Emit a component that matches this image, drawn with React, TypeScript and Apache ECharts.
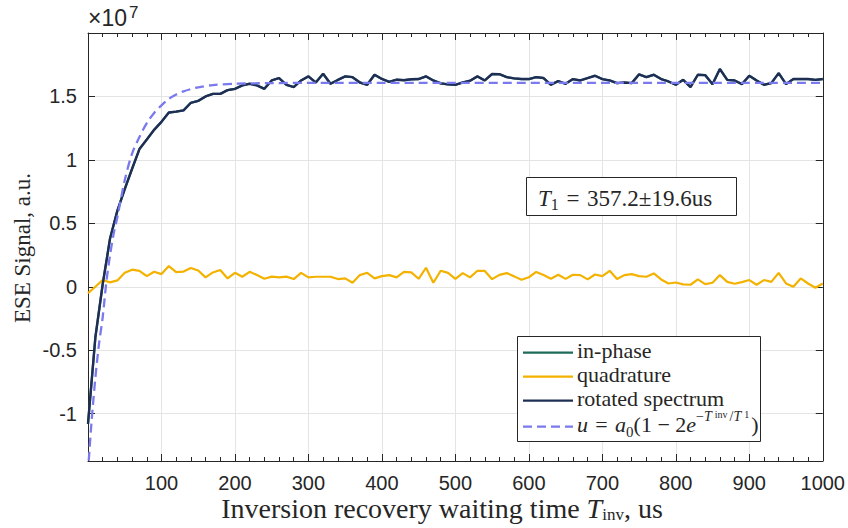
import React, { useEffect, useRef } from 'react';
import * as echarts from 'echarts';

// ---- data (signal values in units of 1e7) ----
const waitTimes = [
  0, 10, 20, 30, 40, 50, 60, 70, 80, 90,
  100, 110, 120, 130, 140, 150, 160, 170, 180, 190,
  200, 210, 220, 230, 240, 250, 260, 270, 280, 290,
  300, 310, 320, 330, 340, 350, 360, 370, 380, 390,
  400, 410, 420, 430, 440, 450, 460, 470, 480, 490,
  500, 510, 520, 530, 540, 550, 560, 570, 580, 590,
  600, 610, 620, 630, 640, 650, 660, 670, 680, 690,
  700, 710, 720, 730, 740, 750, 760, 770, 780, 790,
  800, 810, 820, 830, 840, 850, 860, 870, 880, 890,
  900, 910, 920, 930, 940, 950, 960, 970, 980, 990,
  1000,
];

const rotatedSpectrum = [
  -1.08, -0.40, 0.02, 0.38, 0.60, 0.77, 0.93, 1.085, 1.16, 1.237,
  1.30, 1.373, 1.38, 1.39, 1.45, 1.465, 1.50, 1.52, 1.52, 1.55,
  1.56, 1.587, 1.60, 1.587, 1.56, 1.626, 1.645, 1.592, 1.574, 1.626,
  1.658, 1.61, 1.679, 1.60, 1.63, 1.658, 1.652, 1.61, 1.592, 1.671,
  1.638, 1.615, 1.632, 1.628, 1.635, 1.637, 1.658, 1.626, 1.603, 1.595,
  1.592, 1.61, 1.624, 1.658, 1.626, 1.677, 1.675, 1.652, 1.642, 1.637,
  1.637, 1.652, 1.645, 1.592, 1.621, 1.60, 1.637, 1.626, 1.645, 1.663,
  1.637, 1.626, 1.605, 1.61, 1.605, 1.674, 1.652, 1.671, 1.637, 1.618,
  1.592, 1.631, 1.574, 1.671, 1.668, 1.597, 1.716, 1.631, 1.626, 1.597,
  1.663, 1.626, 1.592, 1.605, 1.684, 1.597, 1.637, 1.637, 1.637, 1.631,
  1.637,
];

// the in-phase channel coincides with the rotated spectrum in the picture
const inPhase = rotatedSpectrum;

const quadrature = [
  -0.05, 0.00, 0.053, 0.035, 0.05, 0.11, 0.135, 0.126, 0.084, 0.118,
  0.10, 0.163, 0.115, 0.12, 0.148, 0.128, 0.074, 0.113, 0.132, 0.066,
  0.11, 0.079, 0.118, 0.092, 0.063, 0.08, 0.074, 0.08, 0.061, 0.11,
  0.074, 0.079, 0.079, 0.079, 0.061, 0.066, 0.032, 0.092, 0.11, 0.066,
  0.084, 0.092, 0.074, 0.118, 0.113, 0.063, 0.150, 0.032, 0.126, 0.11,
  0.063, 0.108, 0.074, 0.126, 0.125, 0.06, 0.094, 0.108, 0.082, 0.055,
  0.075, 0.117, 0.092, 0.064, 0.095, 0.062, 0.095, 0.092, 0.058, 0.097,
  0.084, 0.126, 0.061, 0.092, 0.10, 0.084, 0.079, 0.105, 0.058, 0.026,
  0.034, 0.019, 0.016, 0.058, 0.021, 0.032, 0.092, 0.039, 0.024, 0.037,
  0.053, 0.016, 0.053, 0.039, 0.11, 0.026, 0.0, 0.066, 0.026, -0.008,
  0.026,
];

const fitTimes = [1, 5, 10, 15, 20, 25, 30, 35, 40, 50, 60, 70, 80, 90, 100, 110, 120, 130, 140, 150, 170, 200, 250, 300, 1000];
const fitValues = [-1.37, -1.05, -0.72, -0.45, -0.24, 0.04, 0.25, 0.42, 0.55, 0.84, 1.05, 1.18, 1.29, 1.37, 1.43, 1.48, 1.515, 1.54, 1.558, 1.572, 1.59, 1.600, 1.605, 1.607, 1.607];

const xTickLabels = [100, 200, 300, 400, 500, 600, 700, 800, 900, 1000];
const yTicks = [-1, -0.5, 0, 0.5, 1, 1.5];

const legendNames = ['in-phase', 'quadrature', 'rotated spectrum'];
const fitLabel = '{i|u}{r|\u2004=\u2004}{i|a}{s|0}{r|(1\u2005−\u20052}{i|e}{p|−}{pi|T}{ps|inv}{p|/}{pi|T}{ps|1}{r|)}';
const t1Label = '{i|T}{s|1}{r|\u2004=\u2004357.2±19.6us}';

// ---- styles ----
const SERIF = '"Liberation Serif", "Times New Roman", serif';
const SANS = '"Liberation Sans", Arial, Helvetica, sans-serif';
const INK = '#262626';
const GRID = '#e4e4e4';
const C_INPHASE = '#1d6b5b';
const C_QUAD = '#f4b200';
const C_ROT = '#1f2e55';
const C_FIT = '#7a7aee';

function pairs(xs: number[], ys: number[]) {
  return xs.map((x, i) => [x, ys[i]]);
}

function buildOption(): any {
  const tickStyle = { color: INK, width: 1 };
  const richBase = (size: number, lh: number) => ({
    r: { fontFamily: SERIF, fontSize: size, lineHeight: lh, fill: INK },
    i: { fontFamily: SERIF, fontSize: size, lineHeight: lh, fontStyle: 'italic', fill: INK },
  });

  const legendRows = [352.7, 376.7, 400.7, 426.7];
  const legendColors = [C_INPHASE, C_QUAD, C_ROT];

  const graphics: any[] = [
    // x10^7 exponent
    {
      type: 'text', x: 88, y: 29, z: 100,
      style: { text: '×10', fontFamily: SANS, fontSize: 23, fill: INK, align: 'left', verticalAlign: 'bottom' },
    },
    {
      type: 'text', x: 129, y: 21, z: 100,
      style: { text: '7', fontFamily: SANS, fontSize: 17, fill: INK, align: 'left', verticalAlign: 'bottom' },
    },
    // y axis title
    {
      type: 'text', x: 22, y: 248, rotation: Math.PI / 2, z: 100,
      style: { text: 'ESE Signal, a.u.', fontFamily: SERIF, fontSize: 23, fill: INK, align: 'center', verticalAlign: 'middle' },
    },
    // x axis title
    {
      type: 'text', x: 442, y: 508, z: 100,
      style: {
        text: '{r|Inversion recovery waiting time }{i|T}{s|inv}{r|, us}', align: 'center', verticalAlign: 'middle',
        rich: {
          ...richBase(28, 30),
          s: { fontFamily: SERIF, fontSize: 17, lineHeight: 16, verticalAlign: 'bottom', fill: INK },
        },
      },
    },
    // T1 box
    {
      type: 'rect', z: 100,
      shape: { x: 526.5, y: 177.5, width: 210, height: 38 },
      style: { fill: '#ffffff', stroke: INK, lineWidth: 1 },
    },
    {
      type: 'text', x: 538, y: 198, z: 101,
      style: {
        text: t1Label, align: 'left', verticalAlign: 'middle',
        rich: {
          ...richBase(23, 28),
          s: { fontFamily: SERIF, fontSize: 16, lineHeight: 18, verticalAlign: 'bottom', fill: INK },
        },
      },
    },
    // legend box
    {
      type: 'rect', z: 100,
      shape: { x: 517.5, y: 336.5, width: 243, height: 105 },
      style: { fill: '#ffffff', stroke: INK, lineWidth: 1 },
    },
  ];

  legendNames.forEach((name, k) => {
    graphics.push({
      type: 'line', z: 101,
      shape: { x1: 523, y1: legendRows[k], x2: 573, y2: legendRows[k] },
      style: { stroke: legendColors[k], lineWidth: 2.2 },
    });
    graphics.push({
      type: 'text', x: 577, y: legendRows[k] - 2.7, z: 101,
      style: { text: name, fontFamily: SERIF, fontSize: 22, fill: INK, align: 'left', verticalAlign: 'middle' },
    });
  });
  graphics.push({
    type: 'line', z: 101,
    shape: { x1: 523, y1: legendRows[3], x2: 573, y2: legendRows[3] },
    style: { stroke: C_FIT, lineWidth: 2.2, lineDash: [9, 5] },
  });
  graphics.push({
    type: 'text', x: 577, y: legendRows[3] - 2.7, z: 101,
    style: {
      text: fitLabel, align: 'left', verticalAlign: 'middle',
      rich: {
        ...richBase(22, 30),
        s: { fontFamily: SERIF, fontSize: 15, lineHeight: 18, verticalAlign: 'bottom', fill: INK },
        p: { fontFamily: SERIF, fontSize: 14, lineHeight: 18, verticalAlign: 'top', fill: INK },
        pi: { fontFamily: SERIF, fontSize: 14, lineHeight: 18, verticalAlign: 'top', fontStyle: 'italic', fill: INK, padding: [0, 3, 0, 0] },
        ps: { fontFamily: SERIF, fontSize: 10, lineHeight: 26, verticalAlign: 'top', fill: INK, padding: [0, 2, 0, 0] },
      },
    },
  });

  return {
    animation: false,
    backgroundColor: '#ffffff',
    grid: { left: 88, right: 24, top: 33, bottom: 67 },
    xAxis: [
      {
        type: 'value', min: 0, max: 1000, interval: 100, position: 'bottom',
        axisLine: { show: true, onZero: false, lineStyle: tickStyle },
        axisTick: { show: true, inside: true, length: 7, lineStyle: tickStyle },
        minorTick: { show: true, splitNumber: 5, length: 4, lineStyle: tickStyle },
        axisLabel: {
          customValues: xTickLabels, margin: 12, fontSize: 20, fontFamily: SANS, color: INK,
          formatter: (v: number) => String(v),
        },
        splitLine: { show: true, lineStyle: { color: GRID, width: 1 } },
        minorSplitLine: { show: false },
      },
      {
        type: 'value', min: 0, max: 1000, interval: 100, position: 'top',
        axisLine: { show: true, onZero: false, lineStyle: tickStyle },
        axisTick: { show: true, inside: true, length: 7, lineStyle: tickStyle },
        minorTick: { show: true, splitNumber: 5, length: 4, lineStyle: tickStyle },
        axisLabel: { show: false },
        splitLine: { show: false },
      },
    ],
    yAxis: [
      {
        type: 'value', min: -1.373, max: 2, position: 'left',
        axisLine: { show: true, onZero: false, lineStyle: tickStyle },
        axisTick: { show: true, inside: true, length: 7, customValues: yTicks, lineStyle: tickStyle },
        axisLabel: {
          customValues: yTicks, margin: 11, fontSize: 20, fontFamily: SANS, color: INK,
          formatter: (v: number) => String(v),
        },
        splitLine: { show: true, lineStyle: { color: GRID, width: 1 } },
      },
      {
        type: 'value', min: -1.373, max: 2, position: 'right',
        axisLine: { show: true, onZero: false, lineStyle: tickStyle },
        axisTick: { show: true, inside: true, length: 7, customValues: yTicks, lineStyle: tickStyle },
        axisLabel: { show: false },
        splitLine: { show: false },
      },
    ],
    series: [
      {
        name: 'in-phase', type: 'line', xAxisIndex: 0, yAxisIndex: 0, data: pairs(waitTimes, inPhase),
        showSymbol: false, symbol: 'none', lineStyle: { color: C_INPHASE, width: 2.2 }, itemStyle: { color: C_INPHASE },
      },
      {
        name: 'quadrature', type: 'line', xAxisIndex: 0, yAxisIndex: 0, data: pairs(waitTimes, quadrature),
        showSymbol: false, symbol: 'none', lineStyle: { color: C_QUAD, width: 2.2 }, itemStyle: { color: C_QUAD },
      },
      {
        name: 'rotated spectrum', type: 'line', xAxisIndex: 0, yAxisIndex: 0, data: pairs(waitTimes, rotatedSpectrum),
        showSymbol: false, symbol: 'none', lineStyle: { color: C_ROT, width: 2.4 }, itemStyle: { color: C_ROT },
      },
      {
        name: 'fit', type: 'line', xAxisIndex: 0, yAxisIndex: 0, data: pairs(fitTimes, fitValues), smooth: 0.3,
        showSymbol: false, symbol: 'none', lineStyle: { color: C_FIT, width: 2.3, type: [9, 5] }, itemStyle: { color: C_FIT },
      },
    ],
    graphic: { elements: graphics },
  };
}

export default function App() {
  const ref = useRef<HTMLDivElement>(null);
  useEffect(() => {
    if (!ref.current) return;
    const chart = echarts.init(ref.current, null, { renderer: 'svg', width: 848, height: 528 });
    chart.setOption(buildOption());
    return () => chart.dispose();
  }, []);
  return <div ref={ref} style={{ position: 'fixed', left: 0, top: 0, width: 848, height: 528, background: '#fff' }} />;
}
